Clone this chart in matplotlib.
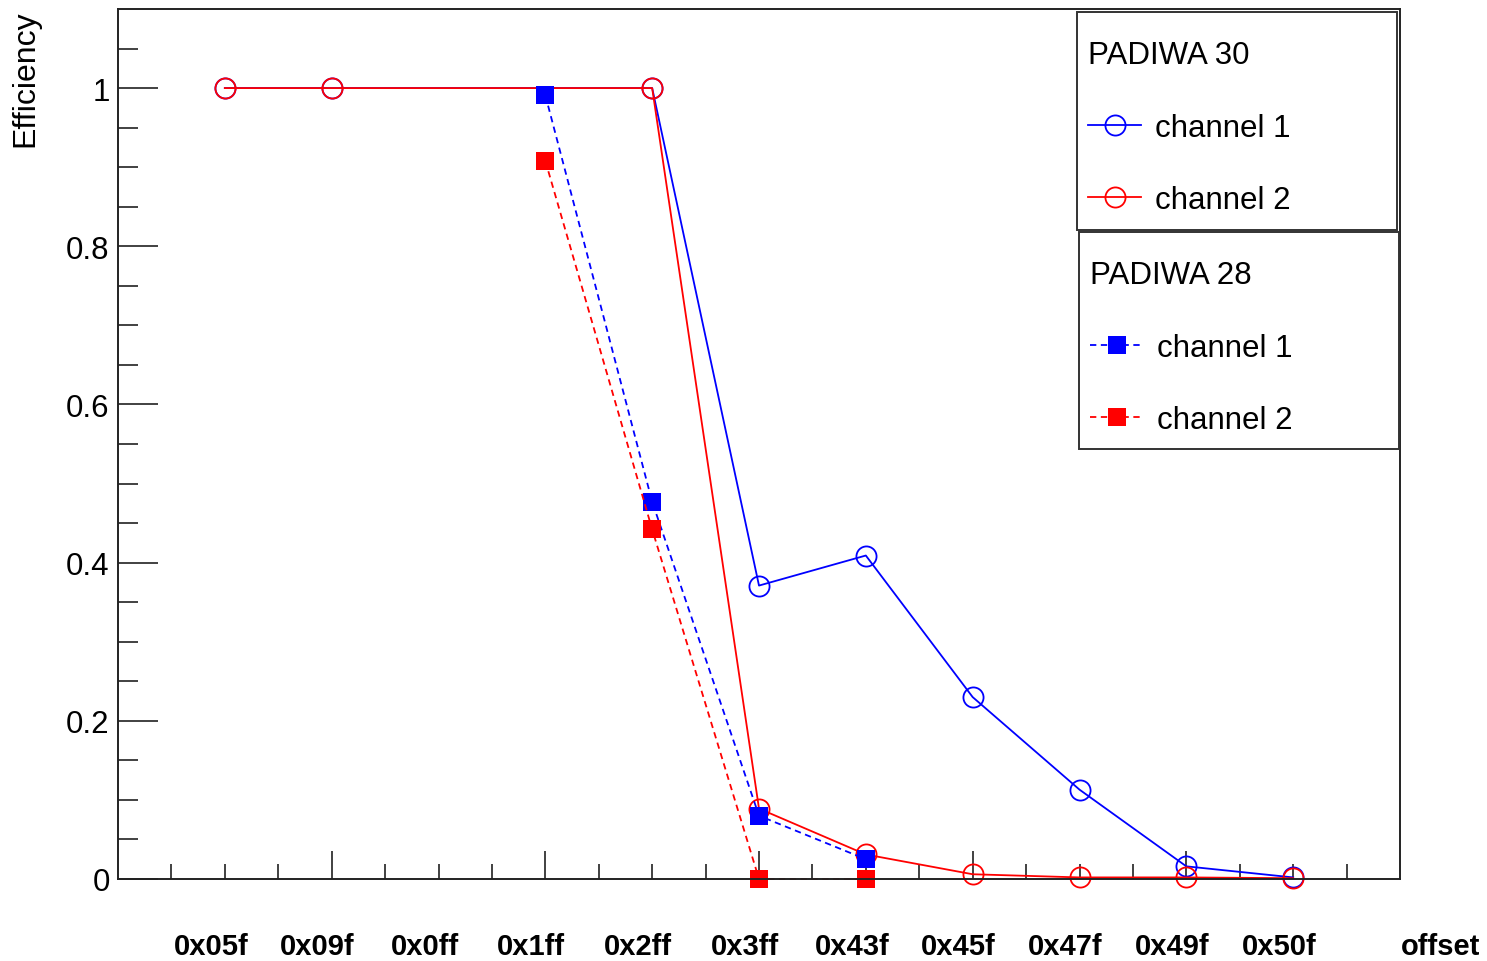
import numpy as np
import matplotlib.pyplot as plt
import matplotlib.transforms as mtransforms
from matplotlib.patches import Rectangle

plt.rcParams['font.family'] = 'Liberation Sans'

# threshold offsets scanned (x axis categories)
offsets = ['0x05f', '0x09f', '0x0ff', '0x1ff', '0x2ff', '0x3ff',
           '0x43f', '0x45f', '0x47f', '0x49f', '0x50f']

# PADIWA 30
p30_offsets = ['0x05f', '0x09f', '0x2ff', '0x3ff', '0x43f', '0x45f', '0x47f', '0x49f', '0x50f']
p30_ch1 = [1.0, 1.0, 1.0, 0.371, 0.409, 0.230, 0.113, 0.016, 0.002]
p30_ch2 = [1.0, 1.0, 1.0, 0.089, 0.031, 0.006, 0.002, 0.002, 0.001]

# PADIWA 28
p28_offsets = ['0x1ff', '0x2ff', '0x3ff', '0x43f']
p28_ch1 = [0.991, 0.477, 0.080, 0.025]
p28_ch2 = [0.908, 0.442, 0.0, 0.0]


def pos(labels):
    return [offsets.index(l) + 1 for l in labels]


W, H = 1487, 962
fig = plt.figure(figsize=(W / 100, H / 100), dpi=100)
ax = fig.add_axes([118/W, 82/H, 1282/W, 870/H])

circ = dict(marker='o', mfc='none', ms=14.5, mew=1.3, lw=1.3, clip_on=False)
sq = dict(marker='s', ms=13, mew=0, lw=1.3, dashes=(3.5, 2.5), clip_on=False)

l1, = ax.plot(pos(p30_offsets), p30_ch1, color='blue', label='channel 1', **circ)
l2, = ax.plot(pos(p30_offsets), p30_ch2, color='red', label='channel 2', **circ)
l3, = ax.plot(pos(p28_offsets), p28_ch1, color='blue', label='channel 1', **sq)
l4, = ax.plot(pos(p28_offsets), p28_ch2, color='red', label='channel 2', **sq)

ax.set_xlim(0, 12)
ax.set_ylim(0, 1.1)

ax.set_xticks(np.arange(2, 12, 2))
ax.set_xticks(np.arange(0.5, 12, 0.5), minor=True)
ax.tick_params(axis='x', which='major', direction='in', length=20, width=1.3,
               labelbottom=False, color='#333')
ax.tick_params(axis='x', which='minor', direction='in', length=11, width=1.3, color='#333')

ax.set_yticks([0, 0.2, 0.4, 0.6, 0.8, 1.0])
ax.set_yticklabels(['0', '0.2', '0.4', '0.6', '0.8', '1'])
ax.set_yticks(np.arange(0.05, 1.1, 0.05), minor=True)
ax.tick_params(axis='y', which='major', direction='in', length=29, width=1.3,
               labelsize=22.5, pad=6, color='#333')
ax.tick_params(axis='y', which='minor', direction='in', length=14.5, width=1.3, color='#333')

for s in ax.spines.values():
    s.set_linewidth(1.4)
    s.set_color('#222')

# category labels under the axis
trans = mtransforms.blended_transform_factory(ax.transData, ax.transAxes)
trans = mtransforms.offset_copy(trans, fig=fig, x=-14, y=-67, units='dots')
for i, lab in enumerate(offsets):
    ax.text(i + 1, 0, lab, transform=trans, ha='center', va='center',
            fontsize=21, fontweight='bold')

fig.text(1480/W, 1 - 947/H, 'offset', ha='right', va='center',
         fontsize=21, fontweight='bold')
fig.text(25/W, 1 - 10/H, 'Efficiency', rotation=90, ha='center', va='top',
         fontsize=23)

# legend boxes (frames drawn separately so the boxes keep a fixed size)
for x0, y0, x1, y1 in [(1077, 13, 1397, 231), (1079, 233, 1399, 450)]:
    ax.add_patch(Rectangle((x0 / W, 1 - y1 / H), (x1 - x0) / W, (y1 - y0) / H,
                           transform=fig.transFigure, facecolor='white',
                           edgecolor='#333', lw=1.4, zorder=4.5, clip_on=False))

legopts = dict(loc='upper left', bbox_transform=fig.transFigure, frameon=False,
               borderaxespad=0, fontsize=22.5, title_fontsize=22.5, alignment='left',
               labelspacing=1.36, handlelength=1.7, handletextpad=0.45,
               borderpad=0.45, numpoints=1)
leg1 = ax.legend(handles=[l1, l2], title='PADIWA 30',
                 bbox_to_anchor=(1074/W, 1 - 27/H), **legopts)
ax.add_artist(leg1)
leg2 = ax.legend(handles=[l3, l4], title='PADIWA 28',
                 bbox_to_anchor=(1076/W, 1 - 247/H), **legopts)

fig.savefig('out.png', dpi=100)
